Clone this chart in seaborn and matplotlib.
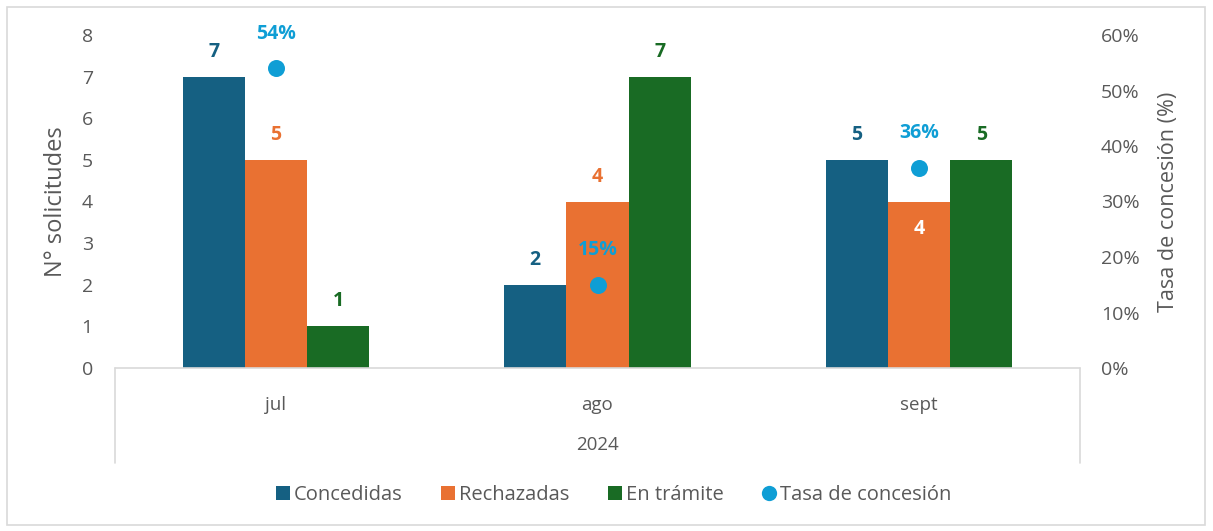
import numpy as np
import pandas as pd
import matplotlib.pyplot as plt
from matplotlib.lines import Line2D
from matplotlib.patches import Rectangle
import seaborn as sns

meses = ["jul", "ago", "sept"]
anio = "2024"
estados = ["Concedidas", "Rechazadas", "En trámite"]
concedidas = [7, 2, 5]
rechazadas = [5, 4, 4]
en_tramite = [1, 7, 5]
tasa = [0.54, 0.15, 0.36]

colores = {"Concedidas": "#156082", "Rechazadas": "#E97132", "En trámite": "#196B24"}
color_tasa = "#0F9ED5"
gris = "#595959"

sns.set_theme(style="white")
plt.rcParams['font.family'] = ['Open Sans', 'DejaVu Sans']

df = pd.DataFrame({
    "mes": meses * 3,
    "estado": [e for e in estados for _ in meses],
    "valor": concedidas + rechazadas + en_tramite,
})

fig = plt.figure(figsize=(12.13, 5.31), dpi=100)
ax = fig.add_axes([115 / 1213, 1 - 368 / 531, 965 / 1213, 333 / 531])

sns.barplot(data=df, x="mes", y="valor", hue="estado", hue_order=estados,
            palette=colores, width=0.58, saturation=1, linewidth=0,
            legend=False, ax=ax)
ax.set_ylim(0, 8)
ax.set_xlim(-0.5, len(meses) - 0.5)
ax.set_yticks(range(0, 9))
ax.set_xlabel("")
ax.set_ylabel("N° solicitudes", fontsize=17, color=gris, labelpad=10)
ax.tick_params(axis='y', length=0, labelsize=14, labelcolor=gris, pad=16)
ax.tick_params(axis='x', length=0, labelsize=13.5, labelcolor=gris, pad=20)
for s in ax.spines.values():
    s.set_visible(False)

# eje de categorías en dos niveles
ax.plot([0, 1], [0, 0], color="#D9D9D9", lw=1.2, transform=ax.transAxes, clip_on=False)
for xx in (0, 1):
    ax.plot([xx, xx], [0, -0.285], color="#D9D9D9", lw=1.2,
            transform=ax.transAxes, clip_on=False)
ax.text(0.5, -0.232, anio, transform=ax.transAxes, ha="center", va="center",
        fontsize=13.5, color=gris)

# etiquetas de las barras
dentro = {("sept", "Rechazadas")}
for estado, cont in zip(estados, ax.containers):
    for mes, bar in zip(meses, cont):
        h = bar.get_height()
        xc = bar.get_x() + bar.get_width() / 2
        if (mes, estado) in dentro:
            ax.annotate(f"{h:.0f}", (xc, h), xytext=(0, -20), textcoords="offset points",
                        ha="center", va="center", fontsize=14, fontweight="bold", color="white")
        else:
            ax.annotate(f"{h:.0f}", (xc, h), xytext=(0, 18), textcoords="offset points",
                        ha="center", va="center", fontsize=14, fontweight="bold",
                        color=colores[estado])

ax2 = ax.twinx()
sns.scatterplot(x=np.arange(len(meses)), y=tasa, color=color_tasa, s=150,
                linewidth=0, ax=ax2, zorder=5)
ax2.set_ylim(0, 0.6)
ax2.set_yticks(np.arange(0, 0.61, 0.1))
ax2.set_yticklabels([f"{v:.0%}" for v in np.arange(0, 0.61, 0.1)])
ax2.set_ylabel("Tasa de concesión (%)", fontsize=15.5, color=gris, labelpad=13)
ax2.tick_params(axis='y', length=0, labelsize=14, labelcolor=gris, pad=15)
for s in ax2.spines.values():
    s.set_visible(False)
for i, t in enumerate(tasa):
    ax2.annotate(f"{t:.0%}", (i, t), xytext=(0, 25), textcoords="offset points",
                 ha="center", va="center", fontsize=14, fontweight="bold", color=color_tasa)

handles = [Line2D([], [], marker="s", linestyle="none", markersize=10,
                  markerfacecolor=colores[e], markeredgewidth=0) for e in estados]
handles.append(Line2D([], [], marker="o", linestyle="none", markersize=11,
                      markerfacecolor=color_tasa, markeredgewidth=0))
leg = fig.legend(handles, estados + ["Tasa de concesión"], loc="center",
                 bbox_to_anchor=(0.506, 1 - 495 / 531), ncol=4, frameon=False,
                 fontsize=14.5, handlelength=0.7, handletextpad=0.2, columnspacing=1.9)
for t in leg.get_texts():
    t.set_color(gris)

fig.patches.append(Rectangle((7 / 1213, 6 / 531), 1198 / 1213, 518 / 531,
                             transform=fig.transFigure, fill=False,
                             edgecolor="#D9D9D9", lw=1.2))

fig.savefig("out.png", dpi=100)
